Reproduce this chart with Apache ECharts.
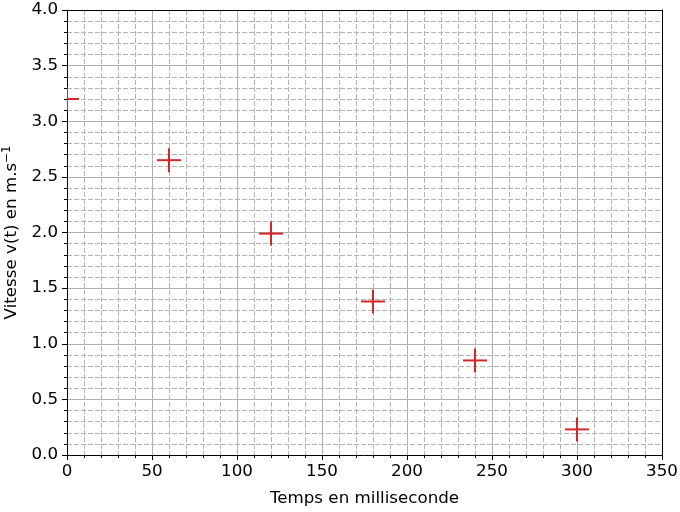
<!DOCTYPE html>
<html>
<head>
<meta charset="utf-8">
<script src="https://cdn.jsdelivr.net/npm/echarts@6/dist/echarts.min.js"></script>
<style>html,body{margin:0;padding:0;background:#fff;}#c{width:680px;height:512px;}</style>
</head>
<body>
<div id="c"></div>
<script>
var times = [0, 60, 120, 180, 240, 300];
var speeds = [3.2, 2.65, 1.99, 1.38, 0.85, 0.23];
var xLabel = 'Temps en milliseconde';
var yLabel = '{b|Vitesse v(t) en m.s}{sup|\u22121}';

var chart = echarts.init(document.getElementById('c'), null, {renderer: 'canvas'});
var font = 'DejaVu Sans';
var fs = 16.7;
var pts = times.map(function (t, i) { return [t, speeds[i]]; });

function frameAxis(pos) {
  return {
    type: 'value', position: pos, min: 0, max: pos === 'top' ? 350 : 4,
    axisLine: {show: true, onZero: false, lineStyle: {color: '#000', width: 1}},
    axisTick: {show: false}, axisLabel: {show: false},
    splitLine: {show: false}, minorSplitLine: {show: false}
  };
}

chart.setOption({
  animation: false,
  backgroundColor: '#ffffff',
  grid: {left: 67, right: 18, top: 10, bottom: 57, show: false, containLabel: false, outerBoundsMode: 'none'},
  xAxis: [{
    type: 'value', min: 0, max: 350, interval: 50, position: 'bottom',
    name: xLabel, nameLocation: 'middle', nameGap: 35,
    nameTextStyle: {fontFamily: font, fontSize: fs, color: '#000'},
    axisLine: {show: true, onZero: false, lineStyle: {color: '#000', width: 1}},
    axisTick: {show: true, inside: false, length: 5, lineStyle: {color: '#000'}},
    minorTick: {show: true, splitNumber: 5, length: 3, lineStyle: {color: '#000'}},
    axisLabel: {fontFamily: font, fontSize: fs, color: '#000', margin: 8},
    splitLine: {show: true, showMinLine: false, showMaxLine: false, lineStyle: {color: '#b0b0b0', width: 1}},
    minorSplitLine: {show: true, lineStyle: {color: '#b4b4b4', width: 1, type: [5, 2]}}
  }, frameAxis('top')],
  yAxis: [{
    type: 'value', min: 0, max: 4, interval: 0.5, position: 'left',
    name: yLabel, nameLocation: 'middle', nameGap: 44,
    nameTextStyle: {fontFamily: font, fontSize: fs, color: '#000',
      rich: {
        b: {fontFamily: font, fontSize: fs, color: '#000', verticalAlign: 'bottom'},
        sup: {fontFamily: font, fontSize: 11.7, color: '#000', verticalAlign: 'bottom', padding: [0, 0, 8, 0]}
      }},
    axisLine: {show: true, onZero: false, lineStyle: {color: '#000', width: 1}},
    axisTick: {show: true, inside: false, length: 5, lineStyle: {color: '#000'}},
    minorTick: {show: true, splitNumber: 5, length: 3, lineStyle: {color: '#000'}},
    axisLabel: {fontFamily: font, fontSize: fs, color: '#000', margin: 9,
      formatter: function (v) { return v.toFixed(1); }},
    splitLine: {show: true, showMinLine: false, showMaxLine: false, lineStyle: {color: '#b0b0b0', width: 1}},
    minorSplitLine: {show: true, lineStyle: {color: '#b4b4b4', width: 1, type: [5, 2]}}
  }, frameAxis('right')],
  series: [{
    type: 'custom',
    clip: true,
    xAxisIndex: 0, yAxisIndex: 0,
    data: pts,
    renderItem: function (params, api) {
      var p = api.coord([api.value(0), api.value(1)]);
      var h = 12;
      var st = {stroke: '#d62728', lineWidth: 2};
      return {
        type: 'group',
        children: [
          {type: 'line', shape: {x1: p[0] - h, y1: p[1], x2: p[0] + h, y2: p[1]}, style: st},
          {type: 'line', shape: {x1: p[0], y1: p[1] - h, x2: p[0], y2: p[1] + h}, style: st}
        ]
      };
    }
  }]
});
</script>
</body>
</html>
